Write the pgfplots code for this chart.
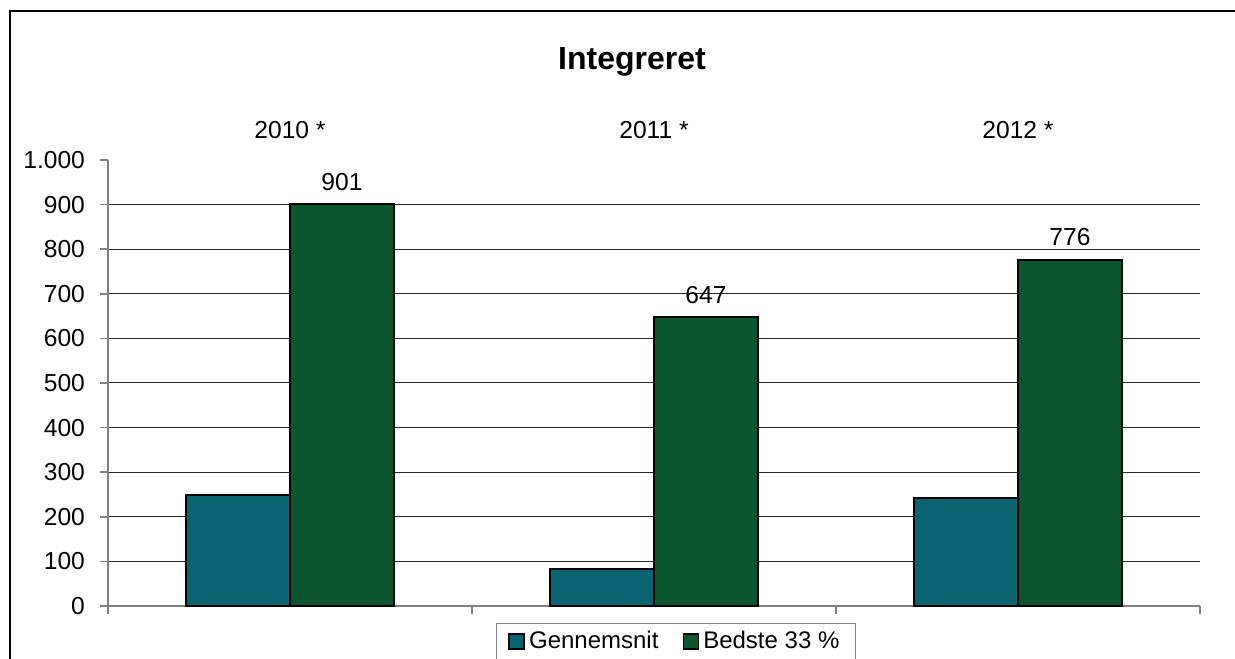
\documentclass[border=0pt]{standalone}
\usepackage{pgfplots}
\pgfplotsset{compat=1.18}
\usepackage{fontspec}
\setmainfont{Liberation Sans}
\definecolor{cteal}{RGB}{9,99,113}
\definecolor{cgreen}{RGB}{11,86,46}
\begin{document}
\begin{tikzpicture}
\useasboundingbox (-54pt,-26pt) rectangle (563.5pt,303pt);
\clip (-54pt,-26pt) rectangle (563.5pt,303pt);
\draw[black, line width=0.6pt] (-49pt,-60pt) rectangle (620pt,297.5pt);
\node[font=\fontsize{16}{19}\selectfont\bfseries] at (262pt,272pt) {Integreret};
\begin{axis}[
  at={(0pt,0pt)}, anchor=south west,
  scale only axis, width=546pt, height=223pt,
  clip=false,
  xmin=-0.5, xmax=2.5, ymin=0, ymax=1000,
  axis x line=bottom, axis y line=left,
  axis line style={draw=gray, line width=0.75pt, -},
  xtick={-0.5,0.5,1.5,2.5}, xticklabels={},
  ytick={100,200,...,900},
  extra y ticks={0,1000},
  extra y tick style={grid=none},
  ymajorgrids,
  major grid style={draw=black!85, line width=0.5pt},
  tick align=outside,
  tick style={draw=gray, line width=0.75pt},
  major tick length=4pt,
  /pgf/number format/assume math mode=true,
  /pgf/number format/1000 sep={.},
  ticklabel style={font=\fontsize{12.3}{14}\selectfont},
  yticklabel style={xshift=-4pt},
  ybar=0pt, bar width=52pt,
  legend columns=2,
  legend style={at={(0.52,-0.038)}, anchor=north, draw=gray, line width=0.5pt,
    font=\fontsize{12}{14}\selectfont, inner xsep=6pt, inner ysep=2pt,
    /tikz/every even column/.append style={column sep=10pt}},
]
\addplot[fill=cteal, draw=black, line width=1pt,
  legend image code/.code={\draw[fill=cteal, draw=black, line width=0.9pt] (0pt,-3.75pt) rectangle (7.5pt,3.75pt);}]
  coordinates {(0,248) (1,82) (2,242)};
\addplot[fill=cgreen, draw=black, line width=1pt,
  legend image code/.code={\draw[fill=cgreen, draw=black, line width=0.9pt] (0pt,-3.75pt) rectangle (7.5pt,3.75pt);},
  nodes near coords,
  every node near coord/.append style={text=black, font=\fontsize{12.3}{14}\selectfont, yshift=3pt}]
  coordinates {(0,901) (1,647) (2,776)};
\legend{Gennemsnit, Bedste 33 \%}
\node[font=\fontsize{12.3}{14}\selectfont] at (axis cs:0,1000) [yshift=15pt] {2010 *};
\node[font=\fontsize{12.3}{14}\selectfont] at (axis cs:1,1000) [yshift=15pt] {2011 *};
\node[font=\fontsize{12.3}{14}\selectfont] at (axis cs:2,1000) [yshift=15pt] {2012 *};
\end{axis}
\end{tikzpicture}
\end{document}
